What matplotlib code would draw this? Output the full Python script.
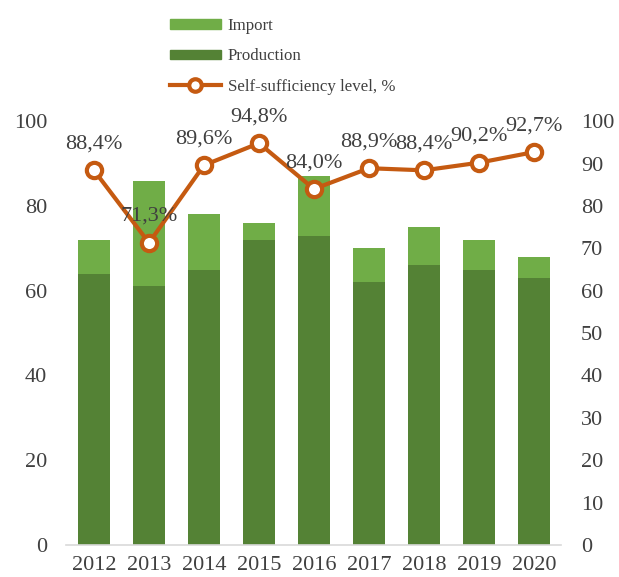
import numpy as np
import matplotlib.pyplot as plt
from matplotlib.lines import Line2D
from matplotlib.patches import Patch

# --- data ---
years = ['2012', '2013', '2014', '2015', '2016', '2017', '2018', '2019', '2020']
production = [64, 61, 65, 72, 73, 62, 66, 65, 63]
total = [72, 86, 78, 76, 87, 70, 75, 72, 68]
imports = [t - p for t, p in zip(total, production)]
self_suff = [88.4, 71.3, 89.6, 94.8, 84.0, 88.9, 88.4, 90.2, 92.7]

c_imp = '#70AD47'
c_prod = '#548235'
c_line = '#C55A11'
c_text = '#404040'
fs = 16

plt.rcParams['font.family'] = ['Liberation Serif', 'DejaVu Serif']

fig = plt.figure(figsize=(6.19, 5.77), dpi=100)
ax = fig.add_axes([0.1074, 0.0555, 0.7996, 0.7345])
x = np.arange(len(years))

ax.bar(x, production, width=0.58, color=c_prod, zorder=2)
ax.bar(x, imports, width=0.58, bottom=production, color=c_imp, zorder=2)

ax.set_xlim(-0.5, 8.5)
ax.set_ylim(0, 100)
ax.set_yticks(range(0, 101, 20))
ax.set_xticks(x)
ax.set_xticklabels(years)
ax.tick_params(axis='both', length=0, labelsize=fs, colors=c_text)
ax.tick_params(axis='y', pad=14)
ax.tick_params(axis='x', pad=8)
for s in ['top', 'left', 'right']:
    ax.spines[s].set_visible(False)
ax.spines['bottom'].set_color('#D9D9D9')
ax.spines['bottom'].set_linewidth(1.2)

ax2 = ax.twinx()
ax2.set_ylim(0, 100)
ax2.set_yticks(range(0, 101, 10))
ax2.tick_params(axis='y', length=0, labelsize=fs, colors=c_text, pad=14)
for s in ax2.spines.values():
    s.set_visible(False)
ax2.plot(x, self_suff, color=c_line, lw=3, marker='o', ms=11,
         mfc='white', mec=c_line, mew=3, zorder=3, clip_on=False)
for xi, v in zip(x, self_suff):
    ax2.annotate(f'{v:.1f}%'.replace('.', ','), (xi, v), xytext=(0, 19),
                 textcoords='offset points', ha='center', va='center',
                 fontsize=fs, color=c_text, annotation_clip=False)

handles = [Patch(color=c_imp), Patch(color=c_prod),
           Line2D([], [], color=c_line, lw=3, marker='o', ms=9,
                  mfc='white', mec=c_line, mew=3)]
labels = ['Import', 'Production', 'Self-sufficiency level, %']
fig.legend(handles, labels, loc='upper left',
           bbox_to_anchor=(170 / 619, 1 - 18 / 577), frameon=False,
           fontsize=12.2, labelcolor=c_text, handlelength=3.0,
           handleheight=0.5, handletextpad=0.4, labelspacing=0.85,
           borderpad=0, borderaxespad=0)

fig.savefig('out.png', dpi=100)
